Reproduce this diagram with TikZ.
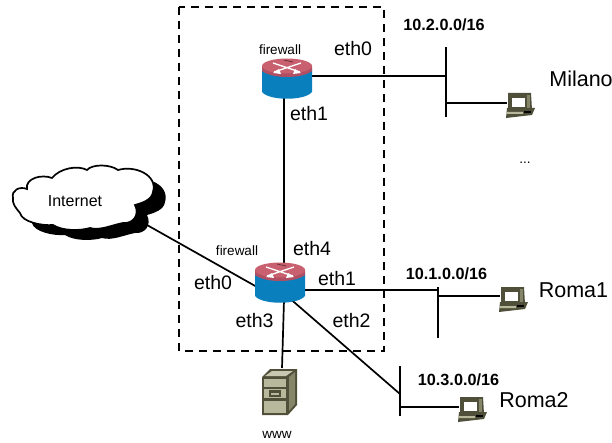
\documentclass[tikz,border=0pt]{standalone}
\usepackage{fontspec}
\setmainfont{Liberation Sans}
\definecolor{rtop}{HTML}{C8606F}
\definecolor{rside}{HTML}{B04F63}
\definecolor{rblue}{HTML}{0A7FBE}
\definecolor{pcdark}{HTML}{50503A}
\definecolor{pcmid}{HTML}{85856A}
\definecolor{pclight}{HTML}{B8B89C}
\definecolor{pctop}{HTML}{C8C8B2}
\tikzset{
 x=1pt,y=-1pt,
 link/.style={line width=1.7pt,black},
 lab/.style={inner sep=0pt,font=\fontsize{19.5}{22}\selectfont},
 biglab/.style={inner sep=0pt,font=\fontsize{21.5}{24}\selectfont},
 small/.style={inner sep=0pt,font=\fontsize{13.5}{15}\selectfont},
 net/.style={inner sep=0pt,font=\bfseries\fontsize{16.2}{18}\selectfont},
 cloudtxt/.style={inner sep=0pt,font=\fontsize{16}{18}\selectfont},
 routerpic/.pic={
  \fill[rblue] (-25,-9) -- (-25,13) .. controls (-18,22) and (18,22) .. (25,13) -- (25,-9) -- cycle;
  \fill[rside] (-25,-13) -- (-25,-8) .. controls (-15,0) and (15,0) .. (25,-8) -- (25,-13) -- cycle;
  \fill[rtop] (0,-13) ellipse [x radius=25,y radius=7.5];
  \draw[white,line width=1.4pt] (-14,-16) -- (13,-7) (14,-16) -- (-13,-7);
  \fill[white] (14,-6) -- (6,-5) -- (8,-10) -- cycle (-14,-6) -- (-6,-5) -- (-8,-10) -- cycle;
  \draw[rside!60!black,line width=0.8pt] (-3,-19) -- (6,-17);
 },
 pcpic/.pic={
  \fill[pcdark] (-12,-12) -- (11,-12) -- (12,5) -- (-12,5) -- cycle;
  \fill[pcmid] (7,-10) rectangle (10,3);
  \fill[white] (-8,-7) rectangle (5,2);
  \fill[pcdark] (-13,3) -- (15,3) -- (12,10) -- (-14,13) -- cycle;
  \fill[pclight] (-13,7) -- (3,7) -- (3,9) -- (-14,9) -- cycle;
  \fill[black] (4,6) rectangle (11,8);
 },
 cloudshape/.pic={
  \path[pic actions] (13,198) .. controls (11,190) and (20,186) .. (27,189)
   .. controls (25,178) and (42,174) .. (52,178)
   .. controls (60,168) and (78,165) .. (87,170)
   .. controls (92,164) and (110,164) .. (118,170)
   .. controls (135,165) and (158,175) .. (153,192)
   .. controls (152,200) and (142,203) .. (135,205)
   .. controls (140,215) and (133,224) .. (123,223)
   .. controls (112,225) and (100,231) .. (90,228)
   .. controls (80,231) and (62,231) .. (53,225)
   .. controls (42,226) and (22,222) .. (20,213)
   .. controls (16,208) and (12,204) .. (13,198) -- cycle;
 },
}
\begin{document}
\begin{tikzpicture}
\useasboundingbox (0,0) rectangle (612,443);
% firewall zone
\draw[line width=1.7pt,dash pattern=on 8pt off 6pt] (179,7) rectangle (384,351);
% anchor points
\coordinate (r1) at (287,79);
\coordinate (r2) at (280,283);
\coordinate (r1out) at (290,76);
\coordinate (r1down) at (284,95);
\coordinate (r2up) at (284,270);
\coordinate (r2left) at (257,287);
\coordinate (r2right) at (300,290);
\coordinate (r2diag) at (287,296);
\coordinate (r2low) at (284,300);
\coordinate (cloudend) at (147,225);
\coordinate (swAt) at (446,47);
\coordinate (swAb) at (446,117);
\coordinate (swAin) at (446,76);
\coordinate (swAout) at (446,103);
\coordinate (swBt) at (438,287);
\coordinate (swBb) at (438,338);
\coordinate (swBin) at (438,290);
\coordinate (swBout) at (438,296);
\coordinate (swCt) at (400,366);
\coordinate (swCb) at (400,416);
\coordinate (swCin) at (400,394);
\coordinate (swCout) at (400,407);
\coordinate (pcM) at (520,105);
\coordinate (pcR1) at (513,299);
\coordinate (pcR2) at (472,409);
\coordinate (pcMin) at (507,103);
\coordinate (pcR1in) at (500,296);
\coordinate (pcR2in) at (459,407);
\coordinate (srv) at (282,368);
% links
\draw[link] (r1down) -- (r2up);
\draw[link] (r1out) -- (swAin);
\draw[link] (swAt) -- (swAb);
\draw[link] (swAout) -- (pcMin);
\draw[link] (cloudend) -- (r2left);
\draw[link] (r2right) -- (swBin);
\draw[link] (swBt) -- (swBb);
\draw[link] (swBout) -- (pcR1in);
\draw[link] (r2low) -- (srv);
\draw[link] (r2diag) -- (swCin);
\draw[link] (swCt) -- (swCb);
\draw[link] (swCout) -- (pcR2in);
% devices
\pic at (r1) {routerpic};
\pic at (r2) {routerpic};
\pic at (pcM) {pcpic};
\pic at (pcR1) {pcpic};
\pic at (pcR2) {pcpic};
% server
\fill[pcdark] (262,377) -- (270,369) -- (297,369) -- (297,405) -- (288,415) -- (262,415) -- cycle;
\fill[pctop] (265,376) -- (272,371) -- (293,371) -- (286,376) -- cycle;
\fill[pcmid] (289,377) -- (295,372) -- (295,404) -- (289,411) -- cycle;
\fill[pclight] (264,378.5) rectangle (286,386.5);
\fill[pclight] (264,389) rectangle (286,398);
\fill[pclight] (264,400.5) rectangle (286,413);
\fill[pcdark] (269,390) rectangle (281,397);
\fill[pclight] (271,392.5) rectangle (279,394.5);
% cloud
\pic[fill=black] at (12,10) {cloudshape};
\pic[draw=black,fill=white,line width=1.7pt] at (0,0) {cloudshape};
\node[cloudtxt] (inet) at (75,201) {Internet};
% labels
\node[small] (fw1) at (280,50) {firewall};
\node[small] (fw2) at (237,251) {firewall};
\node[lab] (a1) at (353,49) {eth0};
\node[lab] (a2) at (309,114) {eth1};
\node[lab] (a3) at (312,249) {eth4};
\node[lab] (a4) at (337,279) {eth1};
\node[lab] (a5) at (213,283) {eth0};
\node[lab] (a6) at (254.5,321) {eth3};
\node[lab] (a7) at (351.5,321) {eth2};
\node[net] (n1) at (444,25) {10.2.0.0/16};
\node[net] (n2) at (446.5,274) {10.1.0.0/16};
\node[net] (n3) at (458.5,380) {10.3.0.0/16};
\node[biglab] (m) at (581,79) {Milano};
\node[biglab] (r1l) at (573.5,290) {Roma1};
\node[biglab] (r2l) at (534,400) {Roma2};
\node[small] (dots) at (525,163) {...};
\node[small] (www) at (277,435) {www};
\end{tikzpicture}
\end{document}
